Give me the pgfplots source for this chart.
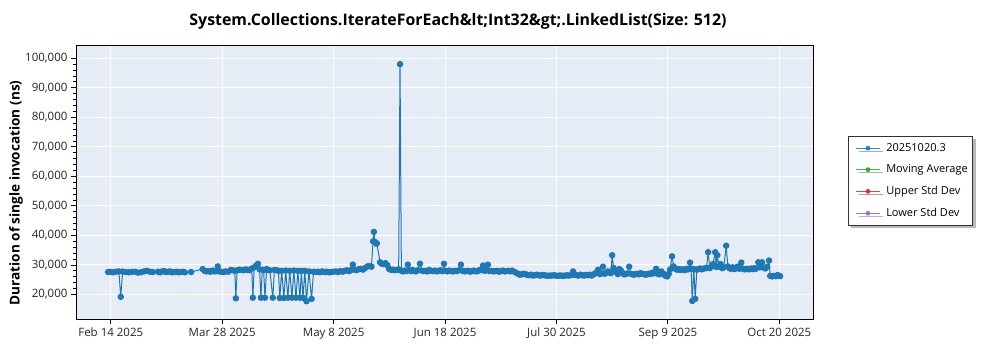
\documentclass[border=0pt]{standalone}
\usepackage{fontspec}
\setmainfont{Open Sans}
\usepackage{pgfplots}
\pgfplotsset{compat=1.18}
\usetikzlibrary{shadows}
\definecolor{bgcol}{HTML}{E5ECF6}
\definecolor{c1}{HTML}{1F77B4}
\definecolor{c2}{HTML}{2CA02C}
\definecolor{c3}{HTML}{D62728}
\definecolor{c4}{HTML}{9467BD}
\pgfplotstableread{
d v
-1.0 27600
-0.3 27650
0.8 27500
1.9 27700
3.0 27800
3.7 19200
4.4 27750
5.5 27600
6.6 27500
7.8 27650
9.0 27700
10.1 27400
11.2 27500
12.3 27800
13.4 28000
14.5 27700
15.6 27600
17.5 27700
18.3 27500
19.0 27800
19.8 27900
20.5 27600
21.3 27700
22.0 27800
22.8 27500
23.6 27600
24.4 27700
25.2 27500
26.0 27600
26.8 27700
27.5 27500
29.8 27600
34.1 28600
34.8 28000
35.5 27800
36.2 27900
37.0 27700
37.8 28100
38.5 27800
39.2 27900
39.7 29500
40.3 27800
41.0 27700
41.8 27600
42.6 27800
43.6 27700
44.5 28300
45.3 28200
46.0 28000
46.4 18700
46.9 28200
47.7 28400
48.5 28300
49.3 28200
50.0 28500
50.8 28300
51.5 28200
52.3 28800
52.7 18900
53.2 29200
53.9 29800
54.6 30400
55.2 28500
55.7 18900
56.2 28400
56.7 28200
57.2 18900
57.8 28600
58.4 28300
59.0 28200
60.1 18900
60.7 28300
61.5 28200
62.2 28000
62.7 18800
63.4 28000
64.2 18800
64.9 28100
65.7 18900
66.4 28000
67.2 18900
67.9 28100
68.7 18900
69.4 28000
70.2 18900
70.7 28000
71.3 18900
72.0 28000
72.6 17700
73.5 27800
74.5 18500
75.2 27700
76.0 27600
76.8 27700
77.6 27500
78.4 27800
79.3 27600
80.1 27700
81.0 27500
81.8 27600
82.6 27700
83.5 27800
84.3 27600
85.1 27900
86.0 27700
86.8 28000
87.6 28200
88.4 27900
89.2 28300
89.8 30100
90.4 28400
91.2 28200
92.0 28600
92.8 28700
93.6 28400
94.4 29000
95.2 29500
96.0 29600
96.7 29400
97.3 38000
97.6 41200
98.0 37800
98.4 37200
98.7 37300
99.9 30900
100.5 30400
101.2 30300
101.9 30600
102.6 29900
103.3 28600
104.0 28300
104.7 28400
105.4 28200
106.1 28300
106.8 28500
107.3 98000
107.8 28000
108.4 27800
109.0 28100
109.6 27900
110.2 30100
110.8 28200
111.4 27900
112.0 28300
112.6 28000
113.2 27800
113.9 28200
114.7 30400
115.3 28100
116.0 27900
116.7 28000
117.4 27800
118.1 28300
118.8 28000
119.5 27900
120.2 28100
120.9 27800
121.6 28000
122.3 28200
123.0 27900
123.6 30400
124.2 28000
124.9 27800
125.6 28100
126.3 27900
127.0 27800
127.7 28000
128.4 27900
129.1 28200
129.9 30100
130.5 28000
131.2 27800
131.9 27900
132.6 28000
133.3 27700
134.0 27900
134.7 28100
135.4 27800
136.1 27900
136.8 28300
137.5 28200
138.1 29800
138.7 28000
139.3 28200
139.9 30100
140.5 27900
141.2 28000
141.9 27800
142.6 27900
143.3 28000
144.0 27700
144.7 27900
145.4 28100
146.1 27800
146.8 27900
147.5 28000
148.2 27800
148.9 28100
149.6 27700
150.3 27400
151.0 27000
151.7 26700
152.4 26800
153.1 27000
153.8 26900
154.5 26600
155.2 26500
155.9 26700
156.6 26400
157.3 26500
158.0 26700
158.7 26500
159.4 26400
160.1 26600
160.8 26500
161.5 26400
162.2 26300
162.9 26400
163.6 26400
164.3 26500
165.0 26400
165.7 26300
166.4 26400
167.1 26400
167.8 26300
168.5 26400
169.2 26500
169.9 26400
170.6 26500
171.5 27800
172.1 26600
172.8 26500
173.5 26400
174.2 26700
174.9 26500
175.6 26400
176.3 26600
177.0 26500
177.7 26700
178.4 26400
179.1 26800
179.8 27200
180.4 27600
180.8 28400
181.4 26900
182.0 27100
182.6 29400
183.2 27000
183.8 27300
184.4 27800
185.0 27500
185.5 27200
186.0 33300
186.5 29000
187.0 28000
187.6 27500
188.1 26900
188.6 28600
189.2 28200
189.8 27300
190.4 26800
191.0 26900
191.6 27100
192.3 29400
192.9 27000
193.5 26800
194.1 26700
194.7 26900
195.3 27000
195.9 26800
196.5 27200
197.1 27000
197.7 26900
198.3 26700
198.9 26800
199.5 27000
200.1 26900
200.7 27300
201.3 27100
201.9 27600
202.3 28700
202.9 27000
203.5 26800
204.2 27800
204.9 27100
205.6 26400
206.4 26100
207.0 27000
207.5 28500
208.2 32900
208.8 29500
209.4 28700
210.0 28400
210.6 28600
211.2 28300
211.8 28500
212.4 28400
213.0 28200
213.6 28700
214.2 28500
214.9 30800
215.3 28700
215.7 17800
216.3 28600
216.8 18500
217.4 28400
218.0 28600
218.6 28800
219.2 28500
219.8 28700
220.4 28900
221.0 29000
221.6 34300
222.2 28900
222.8 29400
223.4 30300
224.2 34300
224.6 29300
225.0 33300
225.6 29400
226.2 30300
226.8 28900
227.4 29200
228.3 36500
228.9 29500
229.5 28900
230.1 28700
230.7 29200
231.3 28600
231.9 28800
232.5 29400
233.2 28700
233.9 30800
234.5 28700
235.1 28500
235.7 28600
236.3 28700
236.9 28500
237.5 28800
238.1 28600
238.7 28900
239.3 28700
240.2 30900
240.8 29200
241.6 30900
242.2 29000
242.8 28800
243.5 29400
244.2 31500
244.6 26300
245.3 26100
246.0 26300
246.7 26200
247.4 26600
248.3 26200
}\datatable
\begin{document}
\begin{tikzpicture}
\useasboundingbox (0,0) rectangle (1000pt,350pt);
\begin{axis}[
  at={(76pt,30.7pt)}, anchor=south west,
  scale only axis, width=737pt, height=273.3pt,
  xmin=-12.9, xmax=260.5, ymin=11588, ymax=104155,
  axis background/.style={fill=bgcol},
  grid=major, major grid style={white, line width=1pt},
  axis line style={black, line width=1pt},
  xtick={0,41.333,82.667,124,165.333,206.667,248},
  xticklabels={Feb 14 2025, Mar 28 2025, May 8 2025, Jun 18 2025, Jul 30 2025, Sep 9 2025, Oct 20 2025},
  ytick={20000,30000,...,100000},
  minor y tick num=4,
  scaled y ticks=false,
  /pgf/number format/.cd, fixed, 1000 sep={,}, assume math mode=true, /pgfplots/.cd,
  tick align=outside, tick pos=left,
  major tick length=5pt, minor tick length=3pt,
  tick style={black, line width=0.8pt},
  ticklabel style={font=\fontsize{11.5}{14}\selectfont, text=black!85},
  legend style={at={(1.0475,0.6707)}, anchor=north west, draw=black!80, line width=0.8pt, fill=white,
    font=\fontsize{11}{14}\selectfont, row sep=8pt, inner xsep=3pt, inner ysep=5pt,
    /tikz/every odd column/.append style={column sep=4pt},
    drop shadow={shadow xshift=3pt, shadow yshift=-3pt, fill=black!55}},
  legend cell align=left,
  legend image code/.code={\path (-4pt,0pt); \draw[mark repeat=2, mark phase=2, mark size=2pt, line width=0.7pt, opacity=0.85] plot coordinates {(0pt,0pt) (12pt,0pt) (24pt,0pt)};},
]
\addplot[color=c1, line width=1pt, mark=*, mark size=2.7pt, mark options={fill=c1, draw=c1}] table[x=d, y=v] {\datatable};
\addlegendentry{20251020.3}
\addlegendimage{color=c2, mark=*, mark options={fill=c2}}
\addlegendentry{Moving Average}
\addlegendimage{color=c3, mark=*, mark options={fill=c3}}
\addlegendentry{Upper Std Dev}
\addlegendimage{color=c4, mark=*, mark options={fill=c4}}
\addlegendentry{Lower Std Dev}
\end{axis}
\node[font=\bfseries\fontsize{15.9}{18}\selectfont, anchor=base] at (458pt,324.3pt) {System.Collections.IterateForEach\&lt;Int32\&gt;.LinkedList(Size: 512)};
\node[font=\bfseries\fontsize{13.6}{16}\selectfont, rotate=90] at (16pt,157pt) {Duration of single invocation (ns)};
\end{tikzpicture}
\end{document}
